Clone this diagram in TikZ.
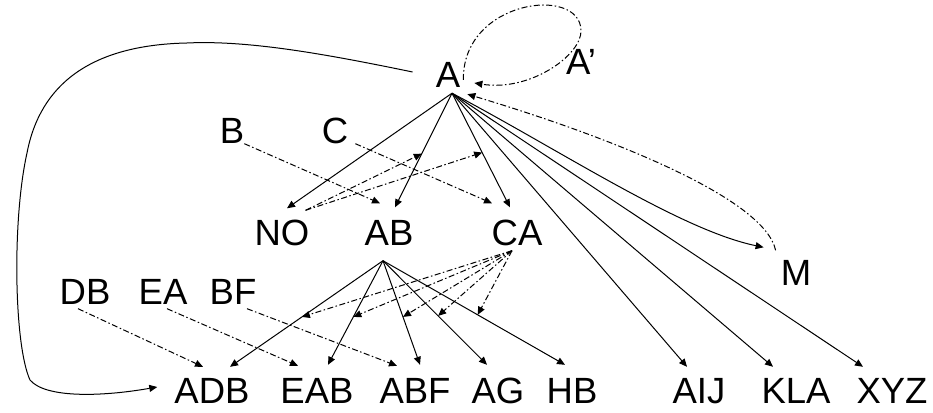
\documentclass[tikz,border=0pt]{standalone}
\usepackage{fontspec}
\setmainfont{Liberation Sans}
\usetikzlibrary{arrows.meta}

\begin{document}
\begin{tikzpicture}[x=1pt, y=1pt,
  lbl/.style={font=\fontsize{36.5pt}{40pt}\selectfont, inner xsep=0pt, inner ysep=5pt, text height=26pt, text depth=0pt},
  link/.style={line width=1pt, -{Triangle[length=8pt,width=7pt]}},
  dlink/.style={line width=1pt, dash pattern=on 6pt off 2.5pt on 1.5pt off 2.5pt, -{Triangle[length=8pt,width=7pt]}}]
\useasboundingbox (0,0) rectangle (933,412);
% 结点
\node[lbl] (A) at (448,337) {A};
\node[lbl] (Ap) at (581,350.5) {A’};
\node[lbl] (B) at (232,281.5) {B};
\node[lbl] (C) at (335,281.5) {C};
\node[lbl] (NO) at (282,179.5) {NO};
\node[lbl] (AB) at (389,179.5) {AB};
\node[lbl] (CA) at (517,179.5) {CA};
\node[lbl] (M) at (796,139.5) {M};
\node[lbl] (DB) at (85,120.5) {DB};
\node[lbl] (EA) at (163,120.5) {EA};
\node[lbl] (BF) at (233,120.5) {BF};
\node[lbl] (ADB) at (212,22) {ADB};
\node[lbl] (EAB) at (317,22) {EAB};
\node[lbl] (ABF) at (415,22) {ABF};
\node[lbl] (AG) at (498,22) {AG};
\node[lbl] (HB) at (572,22) {HB};
\node[lbl] (AIJ) at (699,22) {AIJ};
\node[lbl] (KLA) at (796,22) {KLA};
\node[lbl] (XYZ) at (892,22) {XYZ};
\coordinate (Aout) at ([xshift=4pt]A.south);
\coordinate (ABout) at ([shift={(-6,-10)}]AB.south);
\coordinate (CAout) at ([xshift=-5pt]CA.south);
\coordinate (NOout) at ([shift={(-4,4)}]NO.north east);
% 实线 A
\draw[link] (Aout) -- ([shift={(5,6)}]NO.north);
\draw[link] (Aout) -- coordinate[pos=0.53] (mAB) ([shift={(6,7)}]AB.north);
\draw[link] (Aout) -- coordinate[pos=0.52] (mCA) ([shift={(-7,7)}]CA.north);
\draw[link] (Aout) -- ([shift={(-12,5)}]AIJ.north);
\draw[link] (Aout) -- ([shift={(-23,5)}]KLA.north);
\draw[link] (Aout) -- ([shift={(-29,5)}]XYZ.north);
\draw[link] (Aout) .. controls (560,262) and (680,182) .. ([shift={(-17,7)}]M.north west);
% 实线 AB
\draw[link] (ABout) -- coordinate[pos=0.53] (m1) ([shift={(18,5)}]ADB.north);
\draw[link] (ABout) -- coordinate[pos=0.54] (m2) ([shift={(11,7)}]EAB.north);
\draw[link] (ABout) -- coordinate[pos=0.54] (m3) ([shift={(5,7)}]ABF.north);
\draw[link] (ABout) -- coordinate[pos=0.53] (m4) ([shift={(-11,7)}]AG.north);
\draw[link] (ABout) -- coordinate[pos=0.52] (m5) ([shift={(-7,7)}]HB.north);
% 长弧线
\draw[link] ([shift={(-23,3)}]A.west) .. controls (330,357) and (250,372) .. (187,369)
  .. controls (90,367) and (40,327) .. (27,259) .. controls (12,192) and (14,67) .. (30,32)
  .. controls (45,14) and (100,15) .. ([shift={(-17,3)}]ADB.west);
% 点划线
\draw[dlink] ([yshift=5pt]B.south east) -- ([shift={(-9,11)}]AB.north);
\draw[dlink] ([shift={(7,5)}]C.south east) -- ([shift={(-25,11)}]CA.north);
\draw[dlink] (NOout) -- (mAB);
\draw[dlink] (NOout) -- (mCA);
\draw[dlink] ([shift={(-7,1)}]DB.south) -- ([shift={(-9,5)}]ADB.north);
\draw[dlink] ([shift={(4,1)}]EA.south) -- ([shift={(-19,6)}]EAB.north);
\draw[dlink] ([shift={(14,1)}]BF.south) -- ([shift={(-18,6)}]ABF.north);
\draw[dlink] (CAout) -- (m1);
\draw[dlink] (CAout) -- (m2);
\draw[dlink] (CAout) -- (m3);
\draw[dlink] (CAout) -- (m4);
\draw[dlink] (CAout) -- (m5);
\draw[dlink] ([shift={(-5,4)}]M.north west) .. controls (765,212) and (620,272) .. ([shift={(7,-1)}]A.south east);
\draw[dlink] ([shift={(3,-5)}]A.east) .. controls (462,412) and (580,427) .. ([yshift=13pt]Ap.north)
  .. controls (582,357) and (530,320) .. ([shift={(14,-8)}]A.east);
\end{tikzpicture}
\end{document}
